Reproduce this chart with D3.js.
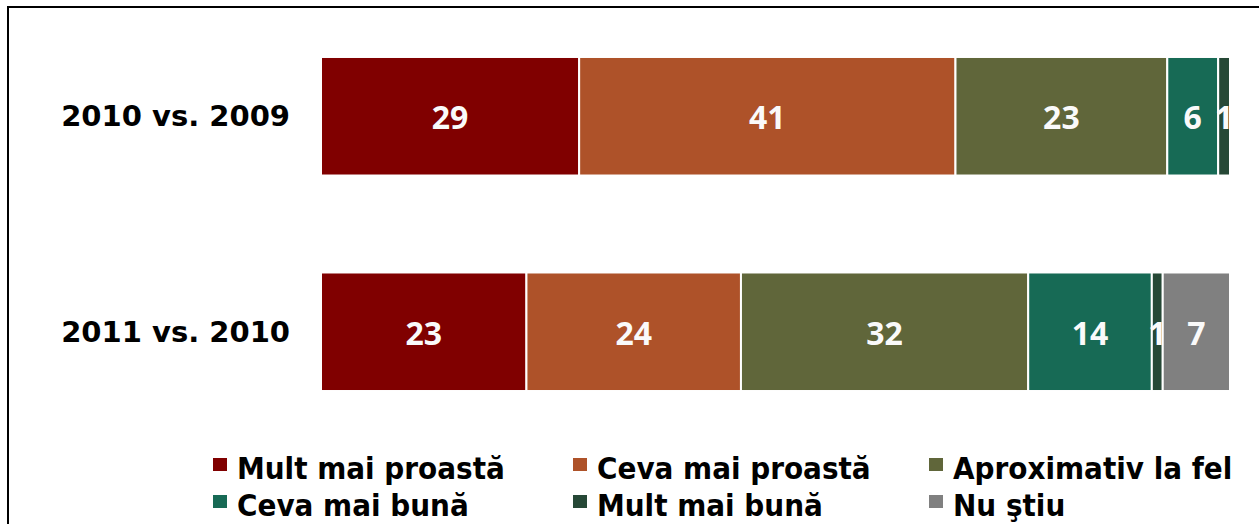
<!DOCTYPE html>
<html>
<head>
<meta charset="utf-8">
<script src="https://cdn.jsdelivr.net/npm/d3@7"></script>
<style>
    body { margin: 0; background: #fff; }
</style>
</head>
<body>
<svg id="chart" width="1259" height="524"></svg>
<script>
// categories and answers
const categories = ["2010 vs. 2009", "2011 vs. 2010"];
const answers = ["Mult mai proastă", "Ceva mai proastă", "Aproximativ la fel", "Ceva mai bună", "Mult mai bună", "Nu ştiu"];
const colors = ["#800000", "#ae5229", "#60663a", "#176a55", "#264836", "#808080"];

// segment sizes (percent)
const values2010 = [28.4, 41.4, 23.3, 5.6, 1.3, 0];
const values2011 = [22.6, 23.6, 31.6, 13.6, 1.2, 7.4];
// printed labels
const labels2010 = ["29", "41", "23", "6", "1", ""];
const labels2011 = ["23", "24", "32", "14", "1", "7"];

const svg = d3.select("#chart"),
    width = +svg.attr("width"),
    height = +svg.attr("height");

// frame (only top and left edge visible)
svg.append("rect")
    .attr("x", 8)
    .attr("y", 7)
    .attr("width", width + 20)
    .attr("height", height + 20)
    .attr("fill", "none")
    .attr("stroke", "#000")
    .attr("stroke-width", 2);

const x = d3.scaleLinear().domain([0, 100]).range([321, 1230]);
const y = d3.scaleBand()
    .domain(categories)
    .range([8.5, 439.5])
    .paddingInner(0.45)
    .paddingOuter(0.225);

const rows = [
    { cat: categories[0], values: values2010, labels: labels2010 },
    { cat: categories[1], values: values2011, labels: labels2011 },
];

rows.forEach(function (row) {
    let acc = 0;
    const segs = row.values.map(function (v, i) {
        const s = { x0: acc, x1: acc + v, color: colors[i], label: row.labels[i] };
        acc += v;
        return s;
    }).filter(s => s.x1 > s.x0);

    const g = svg.append("g");
    g.selectAll("rect")
        .data(segs)
        .enter()
        .append("rect")
        .attr("x", d => x(d.x0))
        .attr("y", y(row.cat))
        .attr("width", d => x(d.x1) - x(d.x0))
        .attr("height", y.bandwidth())
        .attr("fill", d => d.color)
        .attr("stroke", "#fff")
        .attr("stroke-width", 2);

    g.selectAll("text")
        .data(segs)
        .enter()
        .append("text")
        .attr("x", d => (x(d.x0) + x(d.x1)) / 2)
        .attr("y", y(row.cat) + y.bandwidth() / 2 + 13)
        .attr("text-anchor", "middle")
        .attr("font-family", "'Open Sans', sans-serif")
        .attr("font-weight", "bold")
        .attr("font-size", 32)
        .attr("fill", "#fafafa")
        .text(d => d.label);

    // category label
    svg.append("text")
        .attr("x", 290)
        .attr("y", y(row.cat) + y.bandwidth() / 2 + 10)
        .attr("text-anchor", "end")
        .attr("font-family", "'DejaVu Sans', sans-serif")
        .attr("font-weight", "bold")
        .attr("font-size", 29)
        .attr("fill", "#000")
        .text(row.cat);
});

// legend, 3 columns x 2 rows
const legendX = [237, 597, 953];
const legendY = [479, 516];
const legend = svg.append("g")
    .selectAll("g")
    .data(answers)
    .enter()
    .append("g")
    .attr("transform", (d, i) => `translate(${legendX[i % 3]},${legendY[Math.floor(i / 3)]})`);

legend.append("rect")
    .attr("x", -24)
    .attr("y", -21)
    .attr("width", 14)
    .attr("height", 13)
    .attr("fill", (d, i) => colors[i]);

legend.append("text")
    .attr("x", 0)
    .attr("y", 0)
    .attr("font-family", "'DejaVu Sans', sans-serif")
    .attr("font-weight", "bold")
    .attr("font-stretch", "condensed")
    .attr("font-size", 31)
    .attr("fill", "#000")
    .text(d => d);
</script>
</body>
</html>
